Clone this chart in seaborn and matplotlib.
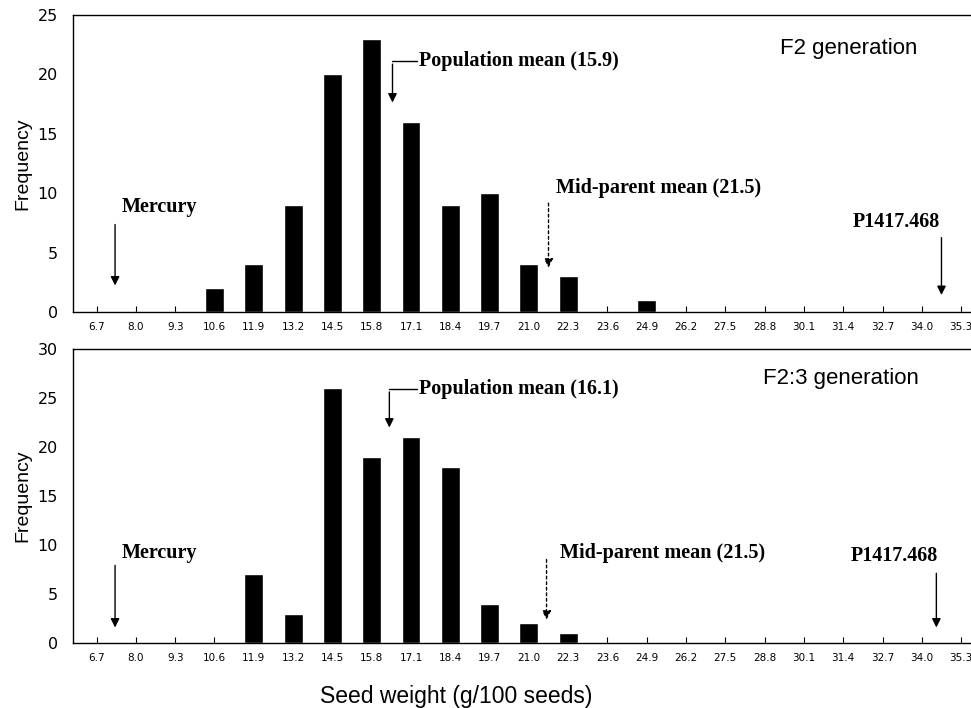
import matplotlib
matplotlib.use('Agg')
import matplotlib.pyplot as plt
import seaborn as sns
import pandas as pd

# bin centres (g/100 seeds)
bins = ['6.7', '8.0', '9.3', '10.6', '11.9', '13.2', '14.5', '15.8', '17.1', '18.4',
        '19.7', '21.0', '22.3', '23.6', '24.9', '26.2', '27.5', '28.8', '30.1',
        '31.4', '32.7', '34.0', '35.3']
f2_counts = [0, 0, 0, 2, 4, 9, 20, 23, 16, 9, 10, 4, 3, 0, 1, 0, 0, 0, 0, 0, 0, 0, 0]
f23_counts = [0, 0, 0, 0, 7, 3, 26, 19, 21, 18, 4, 2, 1, 0, 0, 0, 0, 0, 0, 0, 0, 0, 0]

panels = [
    dict(counts=f2_counts, ymax=25, title='F2 generation', pop_label='Population mean (15.9)',
         title_xy=(17.4, 22.2),
         mercury=dict(text=(0.64, 8.8), tail=(0.47, 7.6), head=(0.47, 2.0)),
         pop=dict(text=(8.2, 21.1), corner=(7.53, 21.1), head=(7.53, 17.4)),
         mid=dict(text=(11.68, 10.4), tail=(11.5, 9.4), head=(11.5, 3.5)),
         pi=dict(text=(19.24, 7.6), tail=(21.5, 6.5), head=(21.5, 1.2))),
    dict(counts=f23_counts, ymax=30, title='F2:3 generation', pop_label='Population mean (16.1)',
         title_xy=(16.95, 27.0),
         mercury=dict(text=(0.64, 9.2), tail=(0.47, 8.2), head=(0.47, 1.3)),
         pop=dict(text=(8.2, 25.9), corner=(7.45, 25.9), head=(7.45, 21.7)),
         mid=dict(text=(11.78, 9.2), tail=(11.45, 8.8), head=(11.45, 2.1)),
         pi=dict(text=(19.2, 8.9), tail=(21.37, 7.4), head=(21.37, 1.3))),
]

sns.set_style('white')
plt.rcParams['font.family'] = ['DejaVu Sans']
for k in ['text.color', 'axes.labelcolor', 'xtick.color', 'ytick.color']:
    plt.rcParams[k] = 'black'

serif = dict(family='Liberation Serif', fontweight='bold', fontsize=14.5)
sans = 'Liberation Sans'
solid = dict(arrowstyle='-|>', color='black', lw=1.0, mutation_scale=13)
dotted = dict(arrowstyle='-|>', color='black', lw=1.0, linestyle=(0, (2, 2)), mutation_scale=13)

fig = plt.figure(figsize=(9.71, 7.08), dpi=100)
ax_top = fig.add_axes([0.0752, 0.5593, 0.947, 0.4195])
ax_bot = fig.add_axes([0.0752, 0.0918, 0.947, 0.4153])

for ax, p in zip([ax_top, ax_bot], panels):
    df = pd.DataFrame({'bin': bins, 'count': p['counts']})
    sns.barplot(data=df, x='bin', y='count', order=bins, color='black',
                width=0.48, saturation=1, ax=ax)
    ax.set_xlim(-0.6, 22.8)
    ax.set_ylim(0, p['ymax'])
    ax.set_yticks(range(0, p['ymax'] + 1, 5))
    ax.set_xlabel('')
    ax.set_ylabel('Frequency', fontsize=14, family=sans, labelpad=4)
    ax.tick_params(axis='y', left=False, length=0, labelsize=11.5, pad=11)
    ax.tick_params(axis='x', bottom=True, direction='in', length=4, width=0.8,
                   labelsize=7.5, pad=7)
    for s in ['left', 'bottom', 'top']:
        ax.spines[s].set_color('black')
        ax.spines[s].set_linewidth(1.0)
    ax.spines['right'].set_visible(False)

    ax.text(*p['title_xy'], p['title'], fontsize=16, family=sans, va='center', ha='left')

    m = p['mercury']
    ax.text(*m['text'], 'Mercury', va='center', ha='left', **serif)
    ax.annotate('', xy=m['head'], xytext=m['tail'], arrowprops=solid)

    q = p['pop']
    ax.text(*q['text'], p['pop_label'], va='center', ha='left', **serif)
    ax.plot([q['corner'][0], q['text'][0] - 0.05], [q['corner'][1]] * 2, color='black', lw=1.0)
    ax.annotate('', xy=q['head'], xytext=q['corner'], arrowprops=solid)

    d = p['mid']
    ax.text(*d['text'], 'Mid-parent mean (21.5)', va='center', ha='left', **serif)
    ax.annotate('', xy=d['head'], xytext=d['tail'], arrowprops=dotted)

    r = p['pi']
    ax.text(*r['text'], 'P1417.468', va='center', ha='left', **serif)
    ax.annotate('', xy=r['head'], xytext=r['tail'], arrowprops=solid)

fig.text(0.47, 0.016, 'Seed weight (g/100 seeds)', ha='center', va='center',
         fontsize=16.5, family=sans)

fig.savefig('out.png', dpi=100)
